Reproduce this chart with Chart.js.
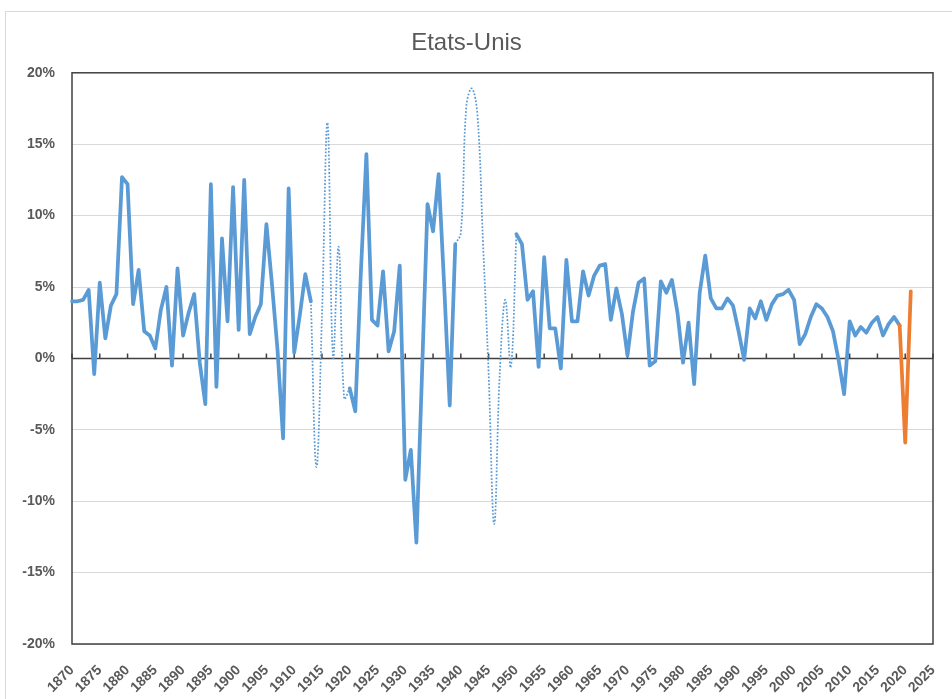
<!DOCTYPE html>
<html>
<head>
<meta charset="utf-8">
<title>Etats-Unis</title>
<script src="https://cdn.jsdelivr.net/npm/chart.js@4/dist/chart.umd.min.js"></script>
<style>
    html, body { margin: 0; padding: 0; background: #ffffff; }
    #wrap { width: 952px; height: 699px; position: relative; }
</style>
</head>
<body>
<div id="wrap"><canvas id="growthChart"></canvas></div>
<script>
// Categories: one per year, axis runs to 2025
const years = [];
for (let y = 1870; y <= 2025; y++) years.push(String(y));

const growth1870to1913 = [
    4.0, 4.0, 4.1, 4.8, -1.1, 5.3, 1.4, 3.7, 4.5, 12.7,
    12.2, 3.8, 6.2, 1.9, 1.6, 0.7, 3.4, 5.0, -0.5, 6.3,
    1.6, 3.2, 4.5, -0.3, -3.2, 12.2, -2.0, 8.4, 2.6, 12.0,
    2.0, 12.5, 1.7, 2.9, 3.8, 9.4, 5.2, 0.6, -5.6, 11.9,
    0.4, 3.0, 5.9, 4.0
];
// 1913 - 1920, dotted
const warOneDotted = [4.0, -7.6, 3.0, 16.5, 0.1, 7.8, -2.8, -2.1];
const growth1920to1939 = [
    -2.1, -3.7, 6.0, 14.3, 2.7, 2.3, 6.1, 0.5, 1.9, 6.5,
    -8.5, -6.4, -12.9, -1.2, 10.8, 8.9, 12.9, 5.1, -3.3, 8.0
];
// 1939 - 1950, dotted
const warTwoDotted = [8.0, 8.8, 17.7, 18.9, 17.0, 8.0, -1.0, -11.6, -1.1, 4.1, -0.6, 8.7];
const growth1950to2019 = [
    8.7, 8.0, 4.1, 4.7, -0.6, 7.1, 2.1, 2.1, -0.7, 6.9,
    2.6, 2.6, 6.1, 4.4, 5.8, 6.5, 6.6, 2.7, 4.9, 3.1,
    0.2, 3.3, 5.3, 5.6, -0.5, -0.2, 5.4, 4.6, 5.5, 3.2,
    -0.3, 2.5, -1.8, 4.6, 7.2, 4.2, 3.5, 3.5, 4.2, 3.7,
    1.9, -0.1, 3.5, 2.8, 4.0, 2.7, 3.8, 4.4, 4.5, 4.8,
    4.1, 1.0, 1.7, 2.9, 3.8, 3.5, 2.9, 1.9, -0.1, -2.5,
    2.6, 1.6, 2.2, 1.8, 2.5, 2.9, 1.6, 2.4, 2.9, 2.3
];
// 2019 - 2021, orange
const forecast2019to2021 = [2.3, -5.9, 4.7];

const yMin = -20;
const yMax = 20;
const yStep = 5;

// Put a run of values into a full-length array of nulls
function placeSeries(target, startYear, values) {
    const start = startYear - 1870;
    values.forEach((v, i) => { target[start + i] = v; });
    return target;
}

const solidData = years.map(() => null);
placeSeries(solidData, 1870, growth1870to1913);
placeSeries(solidData, 1920, growth1920to1939);
placeSeries(solidData, 1950, growth1950to2019);

const dottedData = years.map(() => null);
placeSeries(dottedData, 1913, warOneDotted);
placeSeries(dottedData, 1939, warTwoDotted);

const forecastData = placeSeries(years.map(() => null), 2019, forecast2019to2021);

const FONT = "'Liberation Sans', Arial, sans-serif";
const GREY_TEXT = '#595959';

// Frame, plot border and zero axis with its tick marks
const framePlugin = {
    id: 'frame',
    beforeDraw(chart) {
        const ctx = chart.ctx;
        ctx.save();
        ctx.strokeStyle = '#d9d9d9';
        ctx.lineWidth = 1;
        ctx.strokeRect(5.5, 11.5, 1000, 1000);
        ctx.restore();
    },
    beforeDatasetsDraw(chart) {
        const ctx = chart.ctx;
        const area = chart.chartArea;
        const xScale = chart.scales.x;
        const y0 = Math.round(chart.scales.y.getPixelForValue(0)) + 0.5;
        ctx.save();
        ctx.strokeStyle = '#404040';
        ctx.lineWidth = 1.5;
        ctx.beginPath();
        ctx.moveTo(area.left, y0);
        ctx.lineTo(area.right, y0);
        years.forEach((yr, i) => {
            if (Number(yr) % 5 === 0) {
                const x = xScale.getPixelForValue(i);
                ctx.moveTo(x, y0);
                ctx.lineTo(x, y0 - 5);
            }
        });
        ctx.stroke();
        ctx.strokeRect(area.left, area.top, area.right - area.left, area.bottom - area.top);
        ctx.restore();
    }
};

const ctx = document.getElementById('growthChart').getContext('2d');
new Chart(ctx, {
    type: 'line',
    data: {
        labels: years,
        datasets: [
            {
                label: 'Croissance',
                data: solidData,
                borderColor: '#5b9bd5',
                borderWidth: 3.75,
                borderCapStyle: 'round',
                borderJoinStyle: 'round',
                pointRadius: 0,
                tension: 0,
                spanGaps: false,
                order: 1
            },
            {
                label: 'Guerres',
                data: dottedData,
                borderColor: '#5b9bd5',
                borderWidth: 1.75,
                borderDash: [1.75, 1.75],
                pointRadius: 0,
                tension: 0.4,
                spanGaps: false,
                order: 2
            },
            {
                label: 'Prévision',
                data: forecastData,
                borderColor: '#ed7d31',
                borderWidth: 3.75,
                borderCapStyle: 'round',
                borderJoinStyle: 'round',
                pointRadius: 0,
                tension: 0,
                order: 0
            }
        ]
    },
    options: {
        responsive: true,
        maintainAspectRatio: false,
        animation: false,
        devicePixelRatio: 1,
        events: [],
        layout: {
            padding: { left: 0, right: 19, top: 0, bottom: 0 }
        },
        plugins: {
            legend: { display: false },
            tooltip: { enabled: false },
            title: {
                display: true,
                text: 'Etats-Unis',
                color: GREY_TEXT,
                font: { family: FONT, size: 24, weight: 'normal' },
                padding: { top: 29, bottom: 15 }
            }
        },
        scales: {
            x: {
                type: 'category',
                offset: false,
                grid: { display: false },
                border: { display: false },
                afterFit(scale) {
                    scale.height = 55;
                    scale.paddingRight = 0;
                },
                ticks: {
                    autoSkip: false,
                    maxRotation: 45,
                    minRotation: 45,
                    padding: 10,
                    color: GREY_TEXT,
                    font: { family: FONT, size: 14, weight: 'bold' },
                    callback: function(value, index) {
                        const yr = years[index];
                        return Number(yr) % 5 === 0 ? yr : '';
                    }
                }
            },
            y: {
                min: yMin,
                max: yMax,
                afterFit(scale) { scale.width = 72; },
                grid: {
                    drawTicks: false,
                    lineWidth: 1,
                    color: function(context) {
                        return context.tick && context.tick.value === 0 ? 'rgba(0,0,0,0)' : '#d9d9d9';
                    }
                },
                border: { display: false },
                ticks: {
                    stepSize: yStep,
                    padding: 17,
                    color: GREY_TEXT,
                    font: { family: FONT, size: 14, weight: 'bold' },
                    callback: function(value) {
                        return value + '%';
                    }
                }
            }
        }
    },
    plugins: [framePlugin]
});
</script>
</body>
</html>
